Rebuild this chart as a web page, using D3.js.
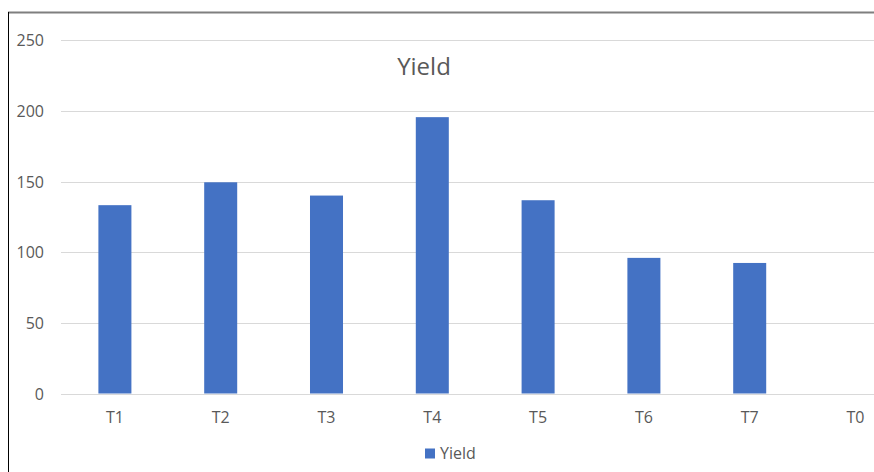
<!DOCTYPE html>
<html>
<head>
<meta charset="utf-8">
<script src="https://cdn.jsdelivr.net/npm/d3@7"></script>
<style>
  html, body { margin: 0; padding: 0; background: #fff; }
  svg { display: block; }
  text { font-family: "Open Sans", "Noto Sans", sans-serif; fill: #595959; }
</style>
</head>
<body>
<svg id="chart" width="874" height="472"></svg>
<script>
const categories = ["T1", "T2", "T3", "T4", "T5", "T6", "T7", "T0"];
const yieldValues = [133.3, 149.5, 140.1, 195.6, 136.8, 96, 92.4, 0];
const yTicks = [0, 50, 100, 150, 200, 250];
const seriesName = "Yield";
const chartTitle = "Yield";

const svg = d3.select("#chart");
const W = 874, H = 472;

// frame: grey top border, black left border
svg.append("line").attr("x1", 8).attr("x2", W).attr("y1", 12.5).attr("y2", 12.5)
  .attr("stroke", "#7f7f7f").attr("stroke-width", 2);
svg.append("line").attr("x1", 8.5).attr("x2", 8.5).attr("y1", 12).attr("y2", H)
  .attr("stroke", "#000").attr("stroke-width", 1);

const x = d3.scaleBand().domain(categories).range([62, 908.4])
  .paddingInner(0.688).paddingOuter(0.344);
const y = d3.scaleLinear().domain([0, 250]).range([393.5, 40.3]);

// gridlines
svg.append("g").selectAll("line").data(yTicks).join("line")
  .attr("x1", 61).attr("x2", W)
  .attr("y1", d => Math.round(y(d)) + 0.5).attr("y2", d => Math.round(y(d)) + 0.5)
  .attr("stroke", "#d9d9d9").attr("stroke-width", 1);

// y axis labels
const yAxis = d3.axisLeft(y).tickValues(yTicks).tickSize(0).tickPadding(0);
const gy = svg.append("g").attr("transform", "translate(44,0)").call(yAxis);
gy.attr("font-size", null).attr("font-family", null);
gy.select(".domain").remove();
gy.selectAll("text").style("font-size", "16px").style("font-family", '"Open Sans", sans-serif')
  .style("fill", "#595959").attr("dy", "0.35em");

// bars
svg.append("g").selectAll("rect").data(categories).join("rect")
  .attr("x", d => x(d))
  .attr("width", x.bandwidth())
  .attr("y", (d, i) => y(yieldValues[i]))
  .attr("height", (d, i) => y(0) - y(yieldValues[i]))
  .attr("fill", "#4472c4");

// x axis labels
const xAxis = d3.axisBottom(x).tickSize(0).tickPadding(0);
const gx = svg.append("g").attr("transform", "translate(0,417)").call(xAxis);
gx.attr("font-size", null).attr("font-family", null);
gx.select(".domain").remove();
gx.selectAll("text").style("font-size", "16px").style("font-family", '"Open Sans", sans-serif')
  .style("fill", "#595959").attr("dy", "0.35em");

// title
svg.append("text").attr("x", 424).attr("y", 74.5).attr("text-anchor", "middle")
  .style("font-size", "24px").text(chartTitle);

// legend
const lg = svg.append("g");
lg.append("rect").attr("x", 425).attr("y", 448.5).attr("width", 10).attr("height", 10).attr("fill", "#4472c4");
lg.append("text").attr("x", 440).attr("y", 459).style("font-size", "16px").text(seriesName);
</script>
</body>
</html>
